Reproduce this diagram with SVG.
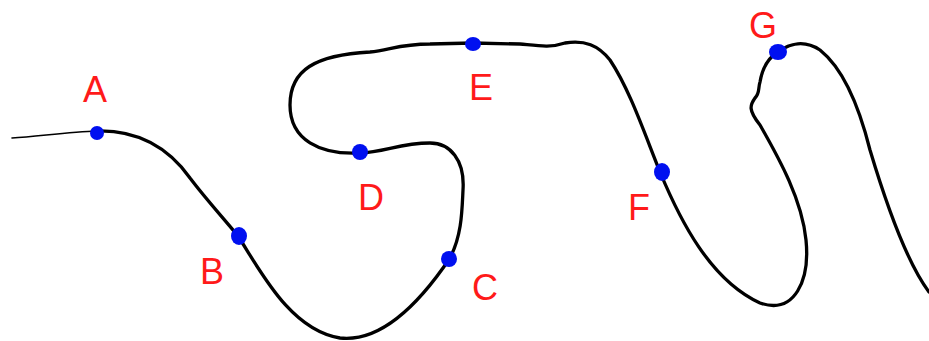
<svg xmlns="http://www.w3.org/2000/svg" width="929" height="341" viewBox="0 0 929 341">
<style>
.curve{fill:none;stroke:#000;stroke-width:3.3;stroke-linecap:round;stroke-linejoin:round}
.thin{fill:none;stroke:#000;stroke-width:1.6;stroke-linecap:round}
.dot{fill:#0010f0}
.lbl{fill:#ff1a1a;font-family:"Liberation Sans",Arial,sans-serif;font-size:36px;text-anchor:middle}
</style>
<rect width="929" height="341" fill="#fff"/>
<g id="connectors">
<path class="thin" d="M12,138 C40,136 70,132 97,131"/>
<path class="curve" d="M97,131 C140,130 170,150 190,178 C205,198 225,220 238,236 C260,270 290,330 340,338 C385,343 425,295 450,258 C462,235 462,210 463,190 C465,160 450,143 430,143 C400,143 385,152 360,153 C320,155 290,140 290,105 C290,70 315,55 370,52 C390,50 400,44 430,44 L473,43 L520,44 C540,46 550,48 565,43 C585,40 598,45 610,60 C630,90 645,135 660,172 C680,220 710,280 760,303 C795,315 810,280 806,240 C802,200 780,160 760,125 C748,110 750,105 755,98 C760,93 758,88 760,82 C762,70 768,58 778,52 C790,43 805,40 820,50 C845,70 860,110 870,150 C885,200 905,260 929,292"/>
</g>
<g id="A"><ellipse class="dot" cx="97" cy="133" rx="7" ry="7"/><text class="lbl" x="95" y="102">A</text></g>
<g id="B"><ellipse class="dot" cx="239" cy="236" rx="8" ry="9"/><text class="lbl" x="212" y="284">B</text></g>
<g id="C"><ellipse class="dot" cx="449" cy="259" rx="8" ry="8"/><text class="lbl" x="485" y="300">C</text></g>
<g id="D"><ellipse class="dot" cx="360" cy="152" rx="8" ry="8"/><text class="lbl" x="371" y="210">D</text></g>
<g id="E"><ellipse class="dot" cx="473" cy="44" rx="8" ry="7"/><text class="lbl" x="481" y="100">E</text></g>
<g id="F"><ellipse class="dot" cx="662" cy="172" rx="8" ry="9"/><text class="lbl" x="639" y="220">F</text></g>
<g id="G"><ellipse class="dot" cx="778" cy="52" rx="9" ry="8"/><text class="lbl" x="763" y="38">G</text></g>
</svg>
